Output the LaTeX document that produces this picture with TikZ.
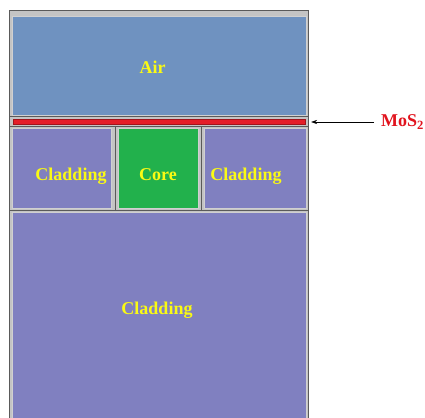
\documentclass[tikz,border=0pt]{standalone}
\usepackage{fontspec}
\setmainfont{Liberation Serif}
\usetikzlibrary{arrows.meta}
\definecolor{airc}{RGB}{111,146,192}
\definecolor{cladc}{RGB}{128,128,192}
\definecolor{corec}{RGB}{34,177,76}
\definecolor{mosc}{RGB}{228,30,40}
\definecolor{mostxt}{RGB}{225,20,30}
\definecolor{txtc}{RGB}{250,250,20}
\definecolor{framec}{RGB}{196,196,196}
\definecolor{darkc}{RGB}{90,90,90}
\begin{document}
\begin{tikzpicture}[x=1pt,y=-1pt,
  region/.style={draw=framec!80!white,line width=0.6pt,inner sep=0pt,outer sep=0pt,anchor=north west},
  lab/.style={text=txtc,font=\fontsize{18}{20}\selectfont\bfseries,inner sep=0pt,anchor=base},
  sep/.style={draw=darkc,line width=0.9pt}]
\useasboundingbox (0,0) rectangle (425,417);
% outer frame
\node[draw=darkc,fill=framec,line width=0.8pt,inner sep=0pt,outer sep=0pt,anchor=north west,
      minimum width=299pt,minimum height=420pt] (frame) at (9,10) {};
% regions
\node[region,fill=airc,minimum width=294pt,minimum height=99pt] (air) at (12,16) {};
\node[region,draw=mosc!70!black,fill=mosc,line width=0.4pt,minimum width=292pt,minimum height=4.5pt] (mos2) at (13,119.5) {};
\node[region,fill=cladc,minimum width=99pt,minimum height=80pt] (cl) at (12,128) {};
\node[region,fill=corec,minimum width=80pt,minimum height=80pt] (core) at (118,128) {};
\node[region,fill=cladc,minimum width=102pt,minimum height=80pt] (cr) at (204,128) {};
\node[region,fill=cladc,minimum width=294pt,minimum height=210pt] (cb) at (12,212) {};
% separators
\coordinate (s1l) at (9,116.8); \coordinate (s1r) at (308,116.8);
\coordinate (s2l) at (9,126.2); \coordinate (s2r) at (308,126.2);
\coordinate (s3l) at (9,210); \coordinate (s3r) at (308,210);
\coordinate (v1t) at (115,126.2); \coordinate (v1b) at (115,210);
\coordinate (v2t) at (201,126.2); \coordinate (v2b) at (201,210);
\draw[sep] (s1l) -- (s1r);
\draw[sep] (s2l) -- (s2r);
\draw[sep] (s3l) -- (s3r);
\draw[sep] (v1t) -- (v1b);
\draw[sep] (v2t) -- (v2b);
% labels
\node[lab] (airlab) at (152.5,74) {Air};
\node[lab] (cllab) at (71,180) {Cladding};
\node[lab] (corelab) at (158,180) {Core};
\node[lab] (crlab) at (246,180) {Cladding};
\node[lab] (cblab) at (157,314) {Cladding};
\node[text=mostxt,font=\fontsize{18}{20}\selectfont\bfseries,inner sep=0pt,anchor=west] (moslab) at (381,122) {MoS\textsubscript{2}};
% arrow
\coordinate (tip) at (311,122);
\coordinate (tail) at (374,122);
\draw[-{Stealth[length=6pt,width=4pt]},line width=0.5pt] (tail) -- (tip);
\end{tikzpicture}
\end{document}
